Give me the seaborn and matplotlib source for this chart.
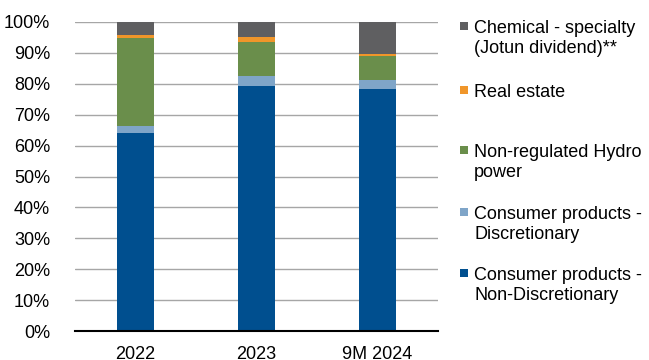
import matplotlib
matplotlib.use("Agg")
import matplotlib.pyplot as plt
import matplotlib.patches as mpatches
import numpy as np
import pandas as pd
import seaborn as sns

# --- Data (share of total, %) ---
periods = ["2022", "2023", "9M 2024"]
non_discretionary = [64.1, 79.3, 78.3]
discretionary = [2.2, 3.3, 2.8]
hydro = [28.5, 11.0, 8.0]
real_estate = [1.0, 1.4, 0.4]
chemical = [4.2, 5.0, 10.5]

series_names = [
    "Consumer products -\nNon-Discretionary",
    "Consumer products -\nDiscretionary",
    "Non-regulated Hydro\npower",
    "Real estate",
    "Chemical - specialty\n(Jotun dividend)**",
]
colors = ["#004f8f", "#7fa5c8", "#6a8e4b", "#f0962a", "#5f5f61"]

df = pd.DataFrame(
    dict(zip(series_names, [non_discretionary, discretionary, hydro, real_estate, chemical])),
    index=periods,
)
cum = df.cumsum(axis=1) / 100.0

# --- Figure ---
sns.set_style("white")
plt.rcParams["font.family"] = ["Liberation Sans", "DejaVu Sans"]
W, H = 649, 360
fig = plt.figure(figsize=(W / 100, H / 100), dpi=100)
ax = fig.add_axes([75 / W, 1 - 331 / H, 363 / W, 309 / H])

# stacked bars: draw cumulative totals from the top layer down
for name, col in zip(series_names[::-1], colors[::-1]):
    sns.barplot(x=periods, y=cum[name].values, color=col, saturation=1,
                width=0.314, linewidth=0, ax=ax)

ax.set_xlim(-0.5, 2.5)
ax.set_ylim(0, 1)
ax.set_yticks(np.arange(0, 1.01, 0.1))
ax.set_yticklabels([f"{int(round(v * 100))}%" for v in np.arange(0, 1.01, 0.1)])
ax.yaxis.grid(True, color="#a6a6a6", linewidth=1)
ax.set_axisbelow(True)
ax.tick_params(axis="y", length=0, pad=18, labelsize=13, colors="#000000")
ax.tick_params(axis="x", length=0, pad=11, labelsize=13, colors="#000000")
for side in ["top", "right", "left"]:
    ax.spines[side].set_visible(False)
ax.spines["bottom"].set_color("#000000")
ax.spines["bottom"].set_linewidth(1.5)
ax.set_xlabel("")
ax.set_ylabel("")

# --- Legend (top entry first) ---
legend_y = [26, 90, 150, 212, 273]
for yc, name, col in zip(legend_y, series_names[::-1], colors[::-1]):
    fig.add_artist(mpatches.Rectangle((460 / W, 1 - (yc + 4) / H), 8 / W, 8 / H,
                                      transform=fig.transFigure, color=col, lw=0))
    fig.text(474 / W, 1 - (yc - 6) / H, name, va="top", ha="left",
             fontsize=13, color="#000000", linespacing=1.2)

fig.savefig("out.png", dpi=100)
